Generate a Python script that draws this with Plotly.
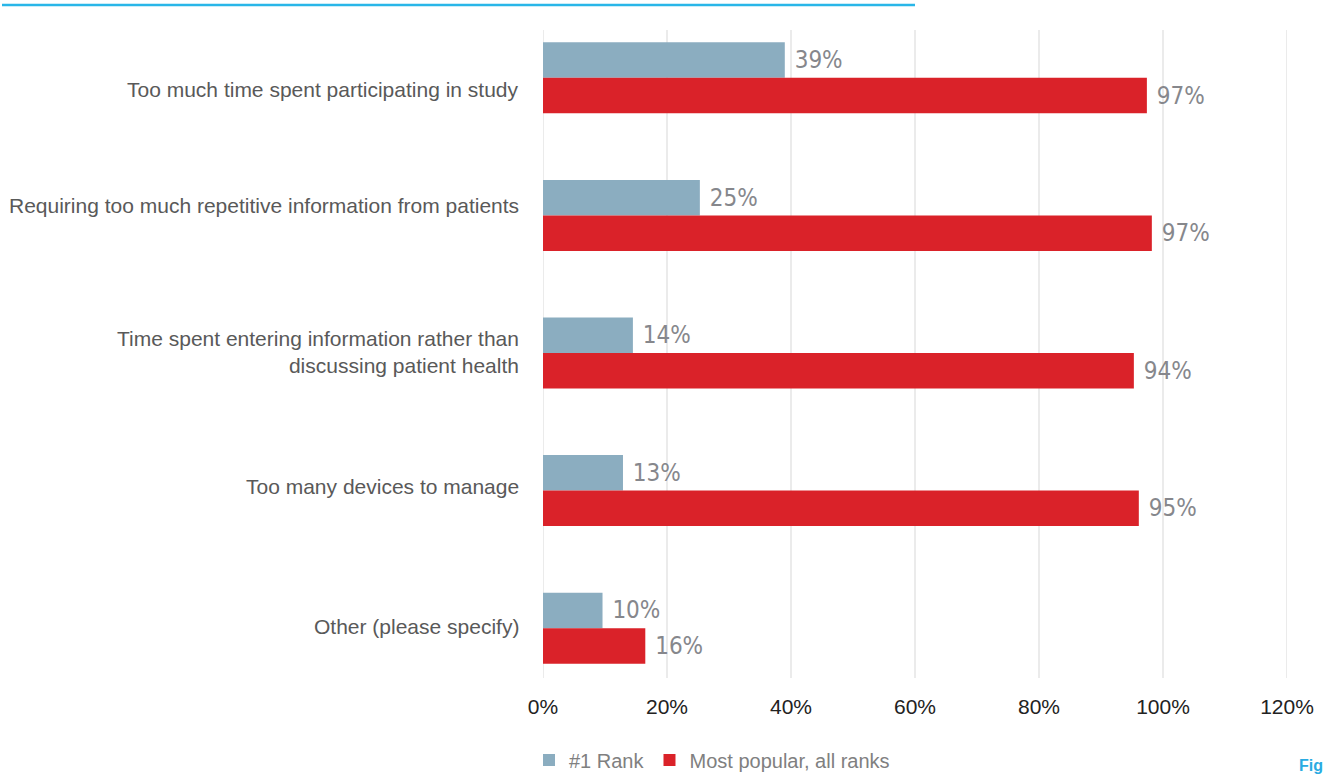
import plotly.graph_objects as go

categories = [
    "Too much time spent participating in study",
    "Requiring too much repetitive information from patients",
    "Time spent entering information rather than<br>discussing patient health",
    "Too many devices to manage",
    "Other (please specify)",
]
rank1_values = [39.0, 25.3, 14.5, 12.9, 9.6]
rank1_labels = ["39%", "25%", "14%", "13%", "10%"]
popular_values = [97.4, 98.2, 95.3, 96.1, 16.5]
popular_labels = ["97%", "97%", "94%", "95%", "16%"]
tick_values = [0, 20, 40, 60, 80, 100, 120]
tick_labels = ["0%", "20%", "40%", "60%", "80%", "100%", "120%"]

# vertical nudge (px, up positive) of each category label, as seen in the reference
label_yshift = [-12, 10, 1, 4, 2]

W, H = 1327, 775
L, R, T, B = 543, 40, 9, 78
PW, PH = W - L - R, H - T - B

def px_x(x):
    return (x - L) / PW

def px_y(y):
    return (H - B - y) / PH

BLUE = "#8badc0"
RED = "#da2229"
LABEL_FONT = dict(family="DejaVu Sans Condensed, Liberation Sans Narrow, sans-serif",
                  size=24, color="#86878c")

fig = go.Figure()
fig.add_trace(go.Bar(
    y=categories, x=rank1_values, orientation="h", name="#1 Rank",
    marker=dict(color=BLUE, line=dict(width=0)),
    text=rank1_labels, texttemplate=" %{text}", textposition="outside",
    textfont=LABEL_FONT, cliponaxis=False, constraintext="none",
    hoverinfo="skip",
))
fig.add_trace(go.Bar(
    y=categories, x=popular_values, orientation="h", name="Most popular, all ranks",
    marker=dict(color=RED, line=dict(width=0)),
    text=popular_labels, texttemplate=" %{text}", textposition="outside",
    textfont=LABEL_FONT, cliponaxis=False, constraintext="none",
    hoverinfo="skip",
))

shapes = []
for v in tick_values:
    shapes.append(dict(type="line", xref="x", yref="paper", x0=v, x1=v,
                       y0=px_y(678), y1=px_y(30),
                       line=dict(color="#ebebeb", width=2), layer="below"))
shapes.append(dict(type="line", xref="paper", yref="paper",
                   x0=px_x(2), x1=px_x(915), y0=px_y(5), y1=px_y(5),
                   line=dict(color="#29b6e8", width=2.5)))

annotations = []
for cat, dy in zip(categories, label_yshift):
    annotations.append(dict(text=cat, xref="paper", yref="y", x=px_x(521), y=cat,
                            xanchor="right", yanchor="middle", align="right",
                            yshift=dy, showarrow=False,
                            font=dict(size=21, color="#595959")))
annotations.append(dict(text="<b>Fig</b>", xref="paper", yref="paper",
                        x=px_x(1325), y=px_y(765), xanchor="right", yanchor="middle",
                        showarrow=False, font=dict(size=16, color="#29abe2")))

fig.update_layout(
    width=W, height=H,
    margin=dict(l=L, r=R, t=T, b=B, pad=0, autoexpand=False),
    paper_bgcolor="white", plot_bgcolor="white",
    barmode="group", bargap=0.484, bargroupgap=0,
    font=dict(family="Liberation Sans, Arial, sans-serif"),
    xaxis=dict(range=[0, 120], tickvals=tick_values, ticktext=tick_labels,
               showgrid=False, zeroline=False, showline=False,
               ticklabelstandoff=-5,
               tickfont=dict(size=21, color="#222222"), fixedrange=True),
    yaxis=dict(autorange="reversed", showgrid=False, zeroline=False, showline=False,
               ticks="", showticklabels=False, fixedrange=True),
    legend=dict(orientation="h", x=px_x(529), xanchor="left",
                yref="container", y=(H - 760) / H, yanchor="middle",
                font=dict(size=20, color="#808080"),
                traceorder="normal", bgcolor="rgba(0,0,0,0)"),
    shapes=shapes,
    annotations=annotations,
)

fig.write_html("out.html", config={"displayModeBar": False},
               post_script="document.body.style.margin='0';")
